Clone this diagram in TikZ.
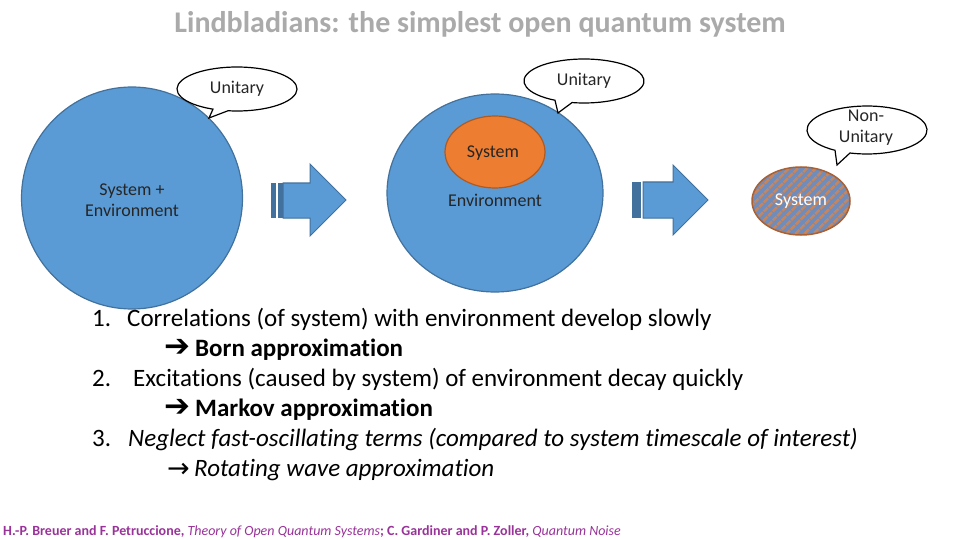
\documentclass[tikz,border=0pt]{standalone}
\usepackage{fontspec}
\setmainfont[Ligatures=NoCommon]{Carlito}
\newfontfamily\symf{DejaVu Sans}
\usetikzlibrary{shapes.geometric,patterns.meta}
\definecolor{blueF}{HTML}{5B9BD5}
\definecolor{blueD}{HTML}{41719C}
\definecolor{orangeF}{HTML}{ED7D31}
\definecolor{orangeD}{HTML}{AE5A21}
\definecolor{hatchB}{RGB}{112,140,186}
\definecolor{hatchO}{RGB}{196,134,96}
\definecolor{hatchD}{RGB}{170,96,50}
\definecolor{titleG}{RGB}{170,170,170}
\definecolor{footP}{RGB}{153,51,153}
\tikzset{
  blob/.style={ellipse, inner sep=0pt, fill=blueF, draw=blueD, line width=1.2pt},
  lbl/.style={font=\fontsize{18}{21}\selectfont, text=black!85, align=center, inner sep=0pt},
  callout/.style={draw=black, line width=1.2pt, fill=white},
  blockarrow/.style={fill=blueF, draw=blueD, line width=1pt},
  strip/.style={fill=blueD, draw=none},
  body/.style={anchor=base west, inner sep=0pt, font=\fontsize{25}{30}\selectfont, text=black},
  arr/.style={anchor=base west, inner sep=0pt, text=black}
}
\begin{document}
\begin{tikzpicture}[x=1pt,y=-1pt]
\useasboundingbox[fill=white] (0,0) rectangle (960,540);

% title
\node[anchor=base, inner sep=0pt, text=titleG, font=\bfseries\fontsize{30}{34}\selectfont] (title) at (480,33) {Lindbladians: the simplest open quantum system};

% ellipses
\node[blob, minimum width=221pt, minimum height=222pt] (se) at (132,198) {};
\node[lbl] (selbl) at (132,200) {System +\\Environment};
\node[blob, minimum width=216pt, minimum height=198pt] (env) at (495,193) {};
\node[lbl] (envlbl) at (495,200) {Environment};
\node[ellipse, inner sep=0pt, fill=orangeF, draw=orangeD, line width=1.2pt, minimum width=100pt, minimum height=72pt] (sys) at (495,152) {};
\node[lbl] (syslbl) at (493,153) {System};
\node[ellipse, inner sep=0pt, fill=hatchB, minimum width=98pt, minimum height=68pt] (hs) at (801,201) {};
\node[ellipse, inner sep=0pt, pattern={Lines[angle=45,distance=6.5pt,line width=3pt]}, pattern color=hatchO, draw=hatchD, line width=1.5pt, minimum width=98pt, minimum height=68pt] (hs2) at (801,201) {};
\node[lbl, text=white] (hslbl) at (801,201) {System};

% block arrows
\draw[blockarrow] (283,183) -- (310,183) -- (310,164) -- (346,200) -- (310,236) -- (310,218) -- (283,218) -- cycle;
\fill[strip] (271,183) rectangle (276,218);
\fill[strip] (278,183) rectangle (283,218);
\draw[blockarrow] (643,182) -- (673,182) -- (673,165) -- (708,200) -- (673,235) -- (673,218) -- (643,218) -- cycle;
\fill[strip] (632,182) rectangle (640.5,218);

% callouts
\draw[callout] ([shift={(237,89)}]98.6:60 and 22) -- (209,118) -- ([shift={(237,89)}]113.6:60 and 22)
  arc[start angle=113.6, end angle=458.6, x radius=60, y radius=22] -- cycle;
\node[lbl] (c1) at (237,89) {Unitary};
\draw[callout] ([shift={(584,81)}]101.5:60 and 22) -- (558,113) -- ([shift={(584,81)}]118.9:60 and 22)
  arc[start angle=118.9, end angle=461.5, x radius=60, y radius=22] -- cycle;
\node[lbl] (c2) at (584,81) {Unitary};
\draw[callout] ([shift={(867,130)}]106.5:60 and 24) -- (837,165) -- ([shift={(867,130)}]122.2:60 and 24)
  arc[start angle=122.2, end angle=466.5, x radius=60, y radius=24] -- cycle;
\node[lbl] (c3) at (866,128) {Non-\\Unitary};

% list
\node[body] (n1) at (92,326) {1.};
\node[body] (t1) at (127,326) {Correlations (of system) with environment develop slowly};
\node[arr, font=\symf\bfseries\fontsize{31}{34}\selectfont] (a1) at (164,356) {➔};
\node[body] (b1) at (195,356) {\textbf{Born approximation}};
\node[body] (n2) at (92,386) {2.};
\node[body] (t2) at (133,386) {Excitations (caused by system) of environment decay quickly};
\node[arr, font=\symf\bfseries\fontsize{31}{34}\selectfont] (a2) at (164,416) {➔};
\node[body] (b2) at (195,416) {\textbf{Markov approximation}};
\node[body] (n3) at (92,446) {3.};
\node[body] (t3) at (128,446) {\itshape Neglect fast-oscillating terms (compared to system timescale of interest)};
\node[arr, font=\symf\fontsize{27}{30}\selectfont] (a3) at (167,477) {→};
\node[body] (b3) at (194,476) {\itshape Rotating wave approximation};

% footer
\node[anchor=base west, inner sep=0pt, text=footP, font=\fontsize{14}{16}\selectfont] (foot) at (3,535)
 {\textbf{H.-P. Breuer and F. Petruccione,} \textit{Theory of Open Quantum Systems}\textbf{; C. Gardiner and P. Zoller,} \textit{Quantum Noise}};
\end{tikzpicture}
\end{document}
